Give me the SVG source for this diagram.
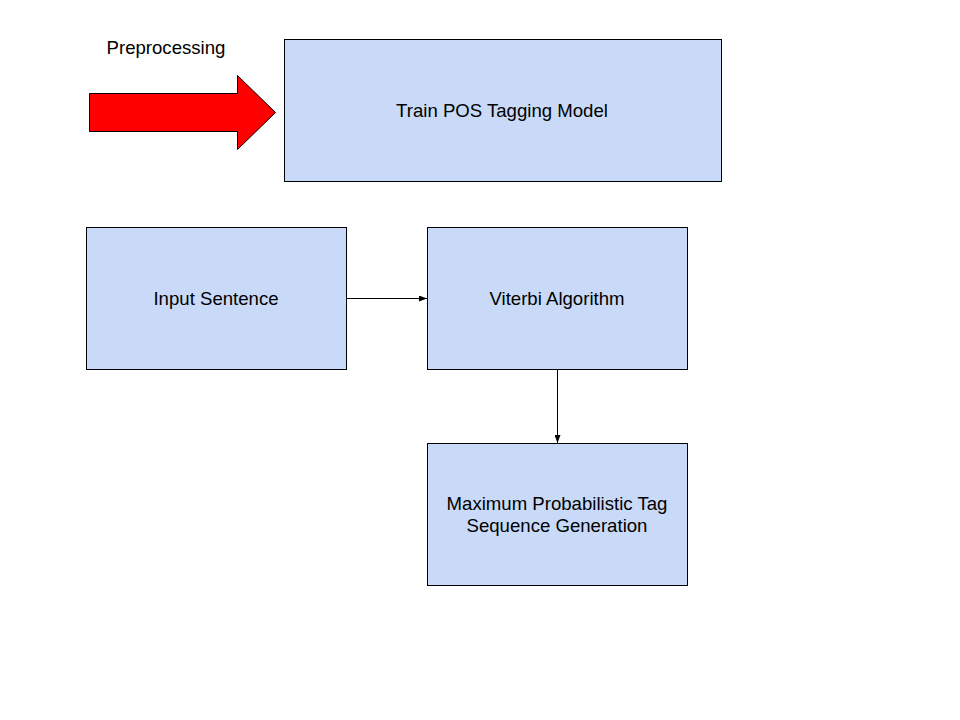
<svg xmlns="http://www.w3.org/2000/svg" width="960" height="720" viewBox="0 0 960 720">
<style>
.box{fill:#c9daf8;stroke:#000;stroke-width:1}
.t{font-family:"Liberation Sans",Arial,sans-serif;font-size:18.6px;fill:#000;text-anchor:middle}
.c{stroke:#000;stroke-width:1;fill:none}
</style>
<defs>
<marker id="ah" markerWidth="8" markerHeight="6" refX="8" refY="3" orient="auto" markerUnits="userSpaceOnUse">
<path d="M0,0 L8,3 L0,6 Z" fill="#000"/>
</marker>
</defs>
<rect width="960" height="720" fill="#fff"/>
<text class="t" x="166" y="54">Preprocessing</text>
<path d="M89.5,93.5 H237.5 V75.5 L275.5,112.5 L237.5,149.5 V131.5 H89.5 Z" fill="#f00" stroke="#000" stroke-width="1"/>
<g id="train"><rect class="box" x="284.5" y="39.5" width="437" height="142"/><text class="t" x="502" y="117">Train POS Tagging Model</text></g>
<g id="input"><rect class="box" x="86.5" y="227.5" width="260" height="142"/><text class="t" x="216" y="305">Input Sentence</text></g>
<g id="viterbi"><rect class="box" x="427.5" y="227.5" width="260" height="142"/><text class="t" x="557" y="305">Viterbi Algorithm</text></g>
<g id="max"><rect class="box" x="427.5" y="443.5" width="260" height="142"/><text class="t" x="557" y="510">Maximum Probabilistic Tag</text><text class="t" x="557" y="532">Sequence Generation</text></g>
<g id="connectors">
<line class="c" x1="347" y1="298.5" x2="427" y2="298.5" marker-end="url(#ah)"/>
<line class="c" x1="557.5" y1="370" x2="557.5" y2="443" marker-end="url(#ah)"/>
</g>
</svg>
